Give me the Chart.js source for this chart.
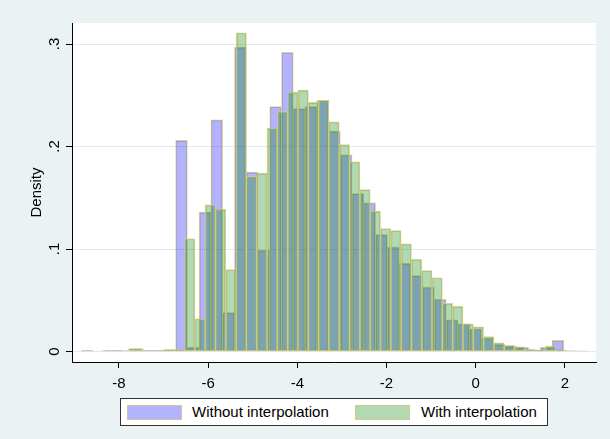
<!DOCTYPE html>
<html>
<head>
<meta charset="utf-8">
<script src="https://cdn.jsdelivr.net/npm/chart.js@4/dist/chart.umd.min.js"></script>
<style>
  html, body { margin: 0; padding: 0; background: #eaf2f3; }
  #wrap { position: relative; width: 610px; height: 439px; overflow: hidden; }
  #c { position: absolute; left: 0; top: 0; }
  #legend { position: absolute; left: 120px; top: 398px; width: 428px; height: 28px; box-sizing: border-box;
            border: 1px solid #333; background: #fff; font: 15px "Liberation Sans", Arial, sans-serif; color: #000; }
  #legend .sw { position: absolute; top: 6px; width: 55px; height: 15px; box-sizing: border-box; }
  #legend .lt { position: absolute; top: 0; height: 26px; line-height: 26px; white-space: nowrap; }
</style>
</head>
<body>
<div id="wrap">
  <canvas id="c" width="610" height="439"></canvas>
  <div id="legend"></div>
</div>
<script>
// Bin midpoints and densities, "Without interpolation"
const blueX = [-8.708,-8.444,-8.180,-7.917,-7.653,-7.389,-7.125,-6.861,-6.597,-6.334,
               -6.070,-5.806,-5.542,-5.278,-5.015,-4.751,-4.487,-4.223,-3.959,-3.696,
               -3.432,-3.168,-2.904,-2.640,-2.377,-2.113,-1.849,-1.585,-1.321,-1.058,
               -0.794,-0.530,-0.266,-0.002,0.261,0.525,0.789,1.053,1.317,1.580,1.844];
const blueY = [0.001,0,0.001,0.001,0.003,0.001,0.001,0.002,0.206,0.004,
               0.136,0.226,0.038,0.297,0.175,0.099,0.239,0.292,0.237,0.239,
               0.245,0.215,0.192,0.154,0.145,0.114,0.102,0.086,0.074,0.063,
               0.051,0.031,0.027,0.022,0.013,0.007,0.005,0.004,0.0015,0.004,0.011];

// Bin midpoints and densities, "With interpolation"
const greenX = [-8.724,-8.493,-8.262,-8.031,-7.800,-7.568,-7.337,-7.106,-6.875,-6.644,
                -6.412,-6.181,-5.950,-5.719,-5.488,-5.256,-5.025,-4.794,-4.563,-4.332,
                -4.100,-3.869,-3.638,-3.407,-3.176,-2.944,-2.713,-2.482,-2.251,-2.020,
                -1.788,-1.557,-1.326,-1.095,-0.864,-0.632,-0.401,-0.170,0.061,0.292,
                0.524,0.755,0.986,1.217,1.448,1.680,1.911,2.142,2.373];
const greenY = [0.001,0,0.001,0.001,0,0.003,0.001,0.001,0.002,0.002,
                0.110,0.032,0.143,0.139,0.080,0.311,0.171,0.174,0.218,0.234,
                0.253,0.255,0.243,0.245,0.224,0.202,0.185,0.158,0.137,0.120,
                0.118,0.105,0.090,0.079,0.072,0.047,0.044,0.027,0.024,0.0145,
                0.0086,0.006,0.0047,0.0024,0.0015,0.0054,0.0015,0.001,0.0006];

const seriesLabels = ['Without interpolation', 'With interpolation'];
const xTickValues = [-8, -6, -4, -2, 0, 2];
const xTickLabels = ['-8', '-6', '-4', '-2', '0', '2'];
const yTickValues = [0, 0.1, 0.2, 0.3];
const yTickLabels = ['0', '.1', '.2', '.3'];
const yTitle = 'Density';

const FONT = '"Liberation Sans", Arial, sans-serif';
const X_MIN = -9.052, X_MAX = 2.697;
const Y_MIN = -0.0102, Y_MAX = 0.3205;
const OUTLINE = 'rgba(212,202,135,0.85)';

const plotBg = {
  id: 'plotBg',
  beforeDraw(chart) {
    const { ctx, chartArea: a } = chart;
    ctx.save();
    ctx.fillStyle = '#ffffff';
    ctx.fillRect(a.left, a.top, a.right - a.left, a.bottom - a.top);
    ctx.restore();
  }
};

const barCommon = { borderColor: OUTLINE, borderWidth: 1, borderSkipped: false,
                    grouped: false, barPercentage: 1, categoryPercentage: 1 };

const chart = new Chart(document.getElementById('c'), {
  type: 'bar',
  data: {
    datasets: [
      Object.assign({
        label: seriesLabels[0],
        data: blueX.map((x, i) => ({ x: x, y: blueY[i] })),
        xAxisID: 'x',
        backgroundColor: 'rgba(0,0,255,0.3)',
        order: 1
      }, barCommon),
      Object.assign({
        label: seriesLabels[1],
        data: greenX.map((x, i) => ({ x: x, y: greenY[i] })),
        xAxisID: 'x2',
        backgroundColor: 'rgba(0,128,0,0.3)',
        order: 0
      }, barCommon)
    ]
  },
  options: {
    responsive: false,
    animation: false,
    devicePixelRatio: 1,
    layout: { padding: { top: 23, right: 14, left: 0, bottom: 0 } },
    plugins: { legend: { display: false }, tooltip: { enabled: false } },
    scales: {
      x: {
        type: 'linear', position: 'bottom', min: X_MIN, max: X_MAX, offset: false,
        afterBuildTicks: s => { s.ticks = xTickValues.map(v => ({ value: v })); },
        afterFit: s => { s.height = 77; },
        grid: { display: true, offset: false, drawOnChartArea: false, drawTicks: true, tickLength: 6, tickColor: '#000', tickWidth: 1 },
        border: { display: true, color: '#000', width: 1 },
        ticks: { font: { family: FONT, size: 15 }, color: '#000', padding: 7, maxRotation: 0, minRotation: 0,
                 autoSkip: false, callback: (v, i) => xTickLabels[i] }
      },
      x2: {
        type: 'linear', position: 'bottom', display: false, min: X_MIN, max: X_MAX, offset: false,
        afterBuildTicks: s => { s.ticks = xTickValues.map(v => ({ value: v })); },
        grid: { display: false, offset: false, drawTicks: false }, border: { display: false }, ticks: { display: false }
      },
      y: {
        type: 'linear', min: Y_MIN, max: Y_MAX,
        afterBuildTicks: s => { s.ticks = yTickValues.map(v => ({ value: v })); },
        afterFit: s => { s.width = 72; },
        grid: { color: '#e0e9eb', lineWidth: 1, drawTicks: true, tickLength: 6, tickColor: '#000' },
        border: { display: true, color: '#000', width: 1 },
        ticks: { font: { family: FONT, size: 15 }, color: '#000', padding: 5, minRotation: 90, maxRotation: 90,
                 crossAlign: 'center', autoSkip: false, callback: (v, i) => yTickLabels[i] },
        title: { display: true, text: yTitle, font: { family: FONT, size: 15 }, color: '#000',
                 padding: { top: 28, bottom: 0 } }
      }
    }
  },
  plugins: [plotBg]
});

// HTML legend built from the chart's datasets
const legendEl = document.getElementById('legend');
const itemLeft = [6, 234];
const textLeft = [71, 300];
chart.data.datasets.forEach((ds, i) => {
  const sw = document.createElement('span');
  sw.className = 'sw';
  sw.style.left = itemLeft[i] + 'px';
  sw.style.background = ds.backgroundColor;
  sw.style.border = '1px solid ' + ds.borderColor;
  legendEl.appendChild(sw);
  const t = document.createElement('span');
  t.className = 'lt';
  t.style.left = textLeft[i] + 'px';
  t.textContent = ds.label;
  legendEl.appendChild(t);
});
</script>
</body>
</html>
